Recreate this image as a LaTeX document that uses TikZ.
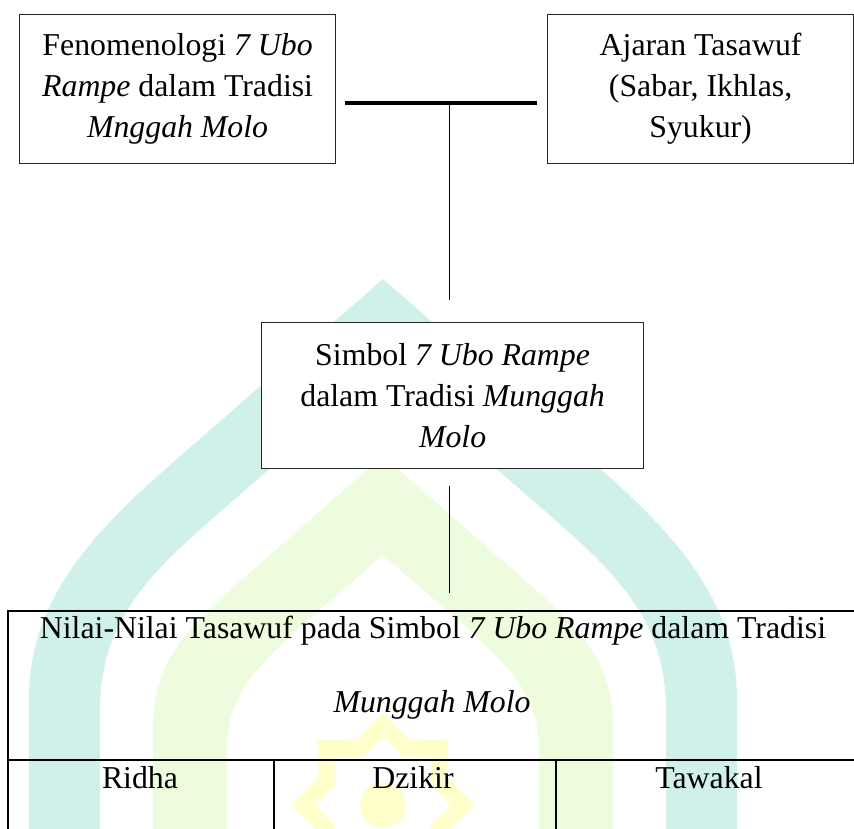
\documentclass[tikz,border=0pt]{standalone}
\usepackage{fontspec}
\setmainfont{Liberation Serif}
\usetikzlibrary{positioning}
\definecolor{wmteal}{RGB}{207,241,234}
\definecolor{wmlime}{RGB}{238,252,222}
\definecolor{wmyellow}{RGB}{255,255,204}

\begin{document}
\begin{tikzpicture}[x=1pt,y=-1pt,
  every node/.style={font=\fontsize{31.8}{41}\selectfont},
  box/.style={draw=black!85,line width=1.2pt,fill=white,align=center,inner sep=0pt},
  cell/.style={draw=black,line width=2pt,inner sep=0pt},
  link/.style={draw=black,line width=1pt}]
  \useasboundingbox (0,0) rectangle (854,828);
  \clip (0,0) rectangle (854,828);
  % watermark: two pointed arches and a star, centred on x=383
  \def\wmx{383}
  \fill[wmteal,even odd rule]
    (\wmx,279) -- (170,465) .. controls (78,545) and (29,610) .. (29,700) -- (29,840)
    -- (737,840) -- (737,700) .. controls (737,610) and (688,545) .. (596,465) -- cycle
    (\wmx,370) -- (220,512) .. controls (150,573) and (100,620) .. (100,710) -- (100,840)
    -- (666,840) -- (666,710) .. controls (666,620) and (616,573) .. (546,512) -- cycle;
  \fill[wmlime,even odd rule]
    (\wmx,456) -- (230,590) .. controls (175,640) and (153,670) .. (153,730) -- (153,840)
    -- (613,840) -- (613,730) .. controls (613,670) and (591,640) .. (536,590) -- cycle
    (\wmx,555) -- (300,627) .. controls (250,672) and (227,700) .. (227,750) -- (227,840)
    -- (539,840) -- (539,750) .. controls (539,700) and (516,672) .. (466,627) -- cycle;
  \coordinate (star) at (\wmx,805);
  \fill[wmyellow,even odd rule]
    ([shift={(star)}]90:92) \foreach \k in {0,...,7} {
      -- ([shift={(star)}]{112.5+45*\k}:70) -- ([shift={(star)}]{135+45*\k}:92) } -- cycle
    ([shift={(star)}]90:68) \foreach \k in {0,...,7} {
      -- ([shift={(star)}]{112.5+45*\k}:52) -- ([shift={(star)}]{135+45*\k}:68) } -- cycle;
  \fill[wmyellow] (star) circle (23);

  % top row
  \node[box,minimum width=316,minimum height=149,anchor=north west] (fenom) at (19,14)
    {Fenomenologi \textit{7 Ubo}\\\textit{Rampe} dalam Tradisi\\\textit{Mnggah Molo}};
  \node[box,minimum width=306,minimum height=149,anchor=north west] (ajaran) at (547,14)
    {Ajaran Tasawuf\\(Sabar, Ikhlas,\\Syukur)};
  \coordinate (barL) at (345,103);
  \coordinate (barR) at (537,103);
  \coordinate (barM) at (449,103);
  \draw[line width=4pt] (barL) -- (barR);

  % middle
  \node[box,minimum width=382,minimum height=146,anchor=north west] (simbol) at (261,322)
    {Simbol \textit{7 Ubo Rampe}\\dalam Tradisi \textit{Munggah}\\\textit{Molo}};
  \coordinate (upEnd) at (449,300);
  \coordinate (dnTop) at (449,486);
  \coordinate (dnEnd) at (449,593);
  \draw[link] (barM) -- (upEnd);
  \draw[link] (dnTop) -- (dnEnd);

  % table of values
  \node[cell,minimum width=858,minimum height=149,anchor=north west] (nilai) at (7,610) {};
  \node[cell,minimum width=266,minimum height=120,anchor=north west] (ridha) at (7,759) {};
  \node[cell,minimum width=282,minimum height=120,anchor=north west] (dzikir) at (273,759) {};
  \node[cell,minimum width=310,minimum height=120,anchor=north west] (tawakal) at (555,759) {};
  \node[anchor=base] (nilaiA) at (433,638)
    {Nilai-Nilai Tasawuf pada Simbol \textit{7 Ubo Rampe} dalam Tradisi};
  \node[anchor=base] (nilaiB) at (432,712) {\textit{Munggah Molo}};
  \node[anchor=base] (ridhaT) at (140,788) {Ridha};
  \node[anchor=base] (dzikirT) at (413,788) {Dzikir};
  \node[anchor=base] (tawakalT) at (709,788) {Tawakal};
\end{tikzpicture}
\end{document}
